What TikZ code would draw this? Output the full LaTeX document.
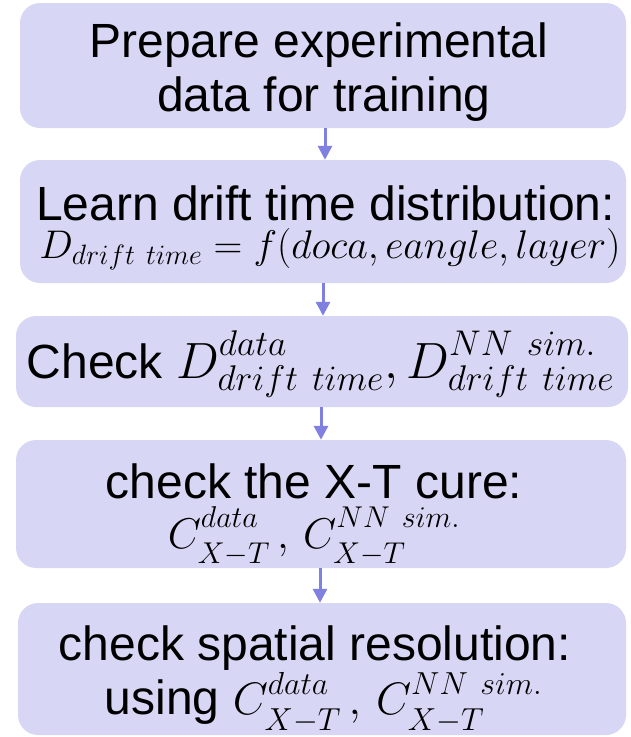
\RequirePackage{fix-cm}
\documentclass[tikz,border=0pt]{standalone}
\usepackage[no-math]{fontspec}
\setmainfont{Liberation Sans}
\usetikzlibrary{arrows.meta}
\definecolor{boxfill}{RGB}{215,215,245}
\definecolor{flowline}{RGB}{128,128,224}
% raise superscripts / lower subscripts of the current formula (used inside math)
\newcommand\scriptlift[2]{%
  \fontdimen13\textfont2=#1\relax\fontdimen14\textfont2=#1\relax\fontdimen15\textfont2=#1\relax
  \fontdimen16\textfont2=#2\relax\fontdimen17\textfont2=#2\relax}
\newcommand\msize[1]{\fontsize{#1}{#1}\selectfont}
\tikzset{
  stage/.style={draw=none, fill=boxfill, rounded corners=20pt, inner sep=0pt},
  label/.style={anchor=base, inner sep=0pt, font=\fontsize{48}{56}\selectfont},
  flow/.style={draw=flowline, line width=3pt, -{Triangle[length=14pt,width=14pt]}}
}
\begin{document}
\begin{tikzpicture}[x=1pt,y=-1pt]
\useasboundingbox (0,0) rectangle (631,737);
% stage boxes
\node[stage, minimum width=606pt, minimum height=125pt] (b1) at (323,65.5) {};
\node[stage, minimum width=606pt, minimum height=123pt] (b2) at (323,221.5) {};
\node[stage, minimum width=612pt, minimum height=91pt]  (b3) at (322,361.5) {};
\node[stage, minimum width=610pt, minimum height=128pt] (b4) at (321,504) {};
\node[stage, minimum width=608pt, minimum height=132pt] (b5) at (322,669) {};
% texts
\node[label] (t1a) at (319,57)  {Prepare experimental};
\node[label] (t1b) at (324,111) {data for training};
\node[label] (t2a) at (325.5,220) {Learn drift time distribution:};
\node[label] (t2b) at (330,258) {\msize{40}$D_{drift\ time}=f(doca,eangle,layer)$};
\node[label] (t3)  at (320.5,378) {Check {\msize{51}$\scriptlift{23pt}{12pt}D^{data}_{drift\ time}, D^{NN\ sim.}_{drift\ time}$}};
\node[label] (t4a) at (314,498) {check the X-T cure:};
\node[label] (t4b) at (314,548) {\msize{43}$\scriptlift{21pt}{15pt}C^{data}_{X-T}\,,\,C^{NN\ sim.}_{X-T}$};
\node[label] (t5a) at (315,660) {check spatial resolution:};
\node[label] (t5b) at (323.5,714) {using {\msize{45.5}$\scriptlift{20pt}{16pt}C^{data}_{X-T}\,,\,C^{NN\ sim.}_{X-T}$}};
% connectors
\draw[flow] (b1.south -| 325,0) -- (b2.north -| 325,0);
\draw[flow] (b2.south -| 323,0) -- (b3.north -| 323,0);
\draw[flow] (b3.south -| 321,0) -- (b4.north -| 321,0);
\draw[flow] (b4.south -| 320,0) -- (b5.north -| 320,0);
\end{tikzpicture}
\end{document}
